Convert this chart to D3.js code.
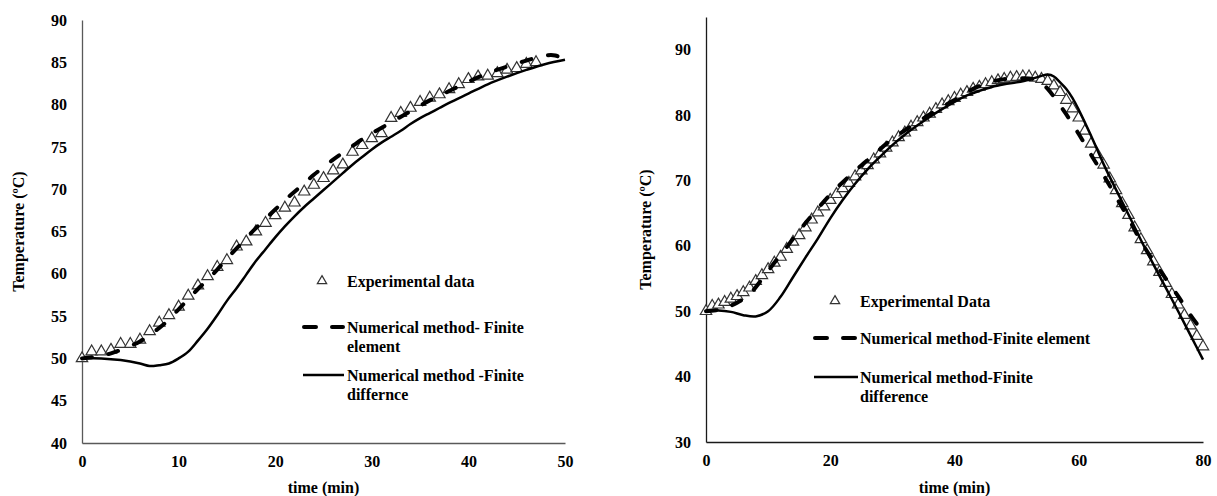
<!DOCTYPE html>
<html>
<head>
<meta charset="utf-8">
<script src="https://cdnjs.cloudflare.com/ajax/libs/d3/7.8.5/d3.min.js"></script>
<style>
  body { margin: 0; background: #fff; }
  text { font-family: "Liberation Serif", "Times New Roman", serif; font-weight: bold; fill: #000; }
</style>
</head>
<body>
<svg id="canvas" width="1217" height="496"></svg>
<script>
// ---- left panel data (heating, 0-50 min) ----
var leftExpTime = [0,1,2,3,4,5,6,7,8,9,10,11,12,13,14,15,16,17,18,19,20,21,22,23,24,25,26,27,28,29,30,31,32,33,34,35,36,37,38,39,40,41,42,43,44,45,46,47];
var leftExpTemp = [50.0,50.8,50.8,51.0,51.7,51.7,52.2,53.2,54.2,55.1,56.1,57.4,58.6,59.7,60.8,61.6,63.2,63.8,65.0,66.0,66.9,67.8,68.4,69.7,70.5,71.3,72.2,72.9,74.4,75.2,76.0,76.6,78.4,79.0,79.6,80.3,80.8,81.2,81.8,82.4,83.0,83.3,83.4,83.7,84.1,84.3,84.8,85.0];
var leftFETime = [0,2,3,4,6,7,8,9,10,11,12,13,14,15,16,17,18,19,20,21,22,23,24,25,26,27,28,29,30,32,34,36,38,40,42,44,46,48,49,50];
var leftFETemp = [50.0,50.3,50.6,51.0,52.0,52.8,53.6,54.6,55.8,57.0,58.2,59.3,60.5,61.8,63.0,64.2,65.4,66.5,67.6,68.7,69.7,70.7,71.7,72.6,73.5,74.3,75.1,75.9,76.6,77.9,79.2,80.5,81.6,82.7,83.7,84.5,85.2,85.8,85.8,85.3];
var leftFDTime = [0,2,4,6,7,8,9,10,11,12,13,14,15,16,17,18,19,20,21,22,23,24,25,26,27,28,29,30,31,32,33,34,35,36,37,38,40,42,44,46,48,50];
var leftFDTemp = [50.0,50.0,49.8,49.4,49.1,49.2,49.4,50.0,50.8,52.1,53.5,55.1,56.8,58.3,59.9,61.5,62.9,64.3,65.6,66.8,67.9,68.9,69.9,70.9,71.9,72.9,73.8,74.7,75.5,76.2,76.9,77.7,78.4,79.0,79.6,80.2,81.3,82.4,83.3,84.1,84.8,85.3];
var leftXTicks = [0,10,20,30,40,50];
var leftYTicks = [40,45,50,55,60,65,70,75,80,85,90];

// ---- right panel data (heating + cooling, 0-80 min) ----
var rightExpTime = [0,1,2,3,4,5,6,7,8,9,10,11,12,13,14,15,16,17,18,19,20,21,22,23,24,25,26,27,28,29,30,31,32,33,34,35,36,37,38,39,40,41,42,43,44,45,46,47,48,49,50,51,52,53,54,55,56,57,58,59,60,61,62,63,64,65,66,67,68,69,70,71,72,73,74,75,76,77,78,79,80];
var rightExpTemp = [50.0,50.8,51.0,51.4,51.9,52.3,52.9,53.6,54.6,55.5,56.4,57.4,58.3,59.5,60.6,61.6,62.8,64.0,65.1,66.0,67.0,67.9,68.8,69.6,70.6,71.5,72.3,73.2,74.1,75.0,75.8,76.6,77.3,78.2,78.9,79.6,80.2,80.9,81.6,82.1,82.6,83.1,83.5,84.0,84.3,84.7,85.0,85.3,85.5,85.7,85.8,85.9,85.9,85.7,85.5,85.2,84.5,83.5,82.3,81.0,79.6,77.6,75.6,74.0,72.4,70.3,68.5,66.5,64.7,62.8,61.0,59.3,57.6,56.0,54.3,52.6,51.0,49.4,47.8,46.2,44.6];
var rightFETime = [0,2,3,5,7,9,11,13,15,17,19,21,23,25,27,29,31,33,35,37,40,43,46,48,50,52,53,54,55,56,58,60,62,64,66,68,70,72,74,76,78,80];
var rightFETemp = [50.0,50.2,50.5,51.3,52.6,54.9,57.4,59.8,62.3,64.6,66.8,68.8,70.6,72.3,73.9,75.6,77.0,78.3,79.5,80.7,82.3,84.0,85.1,85.5,85.6,85.6,85.4,84.9,84.0,82.8,80.1,77.1,73.9,70.8,67.5,64.2,60.7,57.7,55.0,52.3,49.4,46.8];
var rightFDTime = [0,2,4,6,8,10,12,14,16,18,20,22,24,26,28,30,32,34,36,38,40,42,44,46,48,50,52,54,55,56,57,58,59,60,62,64,66,68,70,72,74,76,78,80];
var rightFDTemp = [50.0,50.1,49.9,49.4,49.2,50.0,52.2,55.2,58.2,61.1,64.2,67.0,69.5,71.7,73.6,75.4,77.0,78.4,79.7,80.9,82.0,83.0,83.7,84.3,84.7,85.0,85.4,86.0,86.2,85.9,85.0,84.0,82.6,80.8,76.8,72.5,68.6,64.8,60.9,57.2,53.6,50.0,46.3,42.6];
var rightXTicks = [0,20,40,60,80];
var rightYTicks = [30,40,50,60,70,80,90];

var svg = d3.select("#canvas");

function zip(xs, ys) {
    return xs.map(function(x, i) { return [x, ys[i]]; });
}

function drawPanel(p) {
    var g = svg.append("g");
    var x = d3.scaleLinear().domain(p.xDomain).range([p.left, p.right]);
    var y = d3.scaleLinear().domain(p.yDomain).range([p.bottom, p.top]);

    // axes
    var xAxis = g.append("g")
        .attr("transform", "translate(0," + p.bottom + ")")
        .call(d3.axisBottom(x).tickValues(p.xTicks).tickSize(0).tickPadding(13).tickFormat(d3.format("d")));
    var yAxis = g.append("g")
        .attr("transform", "translate(" + p.left + ",0)")
        .call(d3.axisLeft(y).tickValues(p.yTicks).tickSize(0).tickPadding(15).tickFormat(d3.format("d")));
    [xAxis, yAxis].forEach(function(a) {
        a.select(".domain").attr("stroke", p.axisColor).attr("stroke-width", 1.3);
        a.selectAll("text").style("font-size", "16px")
            .style("font-family", "'Liberation Serif', serif").style("font-weight", "bold").attr("fill", "#000");
    });

    // titles
    g.append("text")
        .attr("x", (p.left + p.right) / 2).attr("y", 493)
        .attr("text-anchor", "middle").style("font-size", "16px")
        .text("time (min)");
    g.append("text")
        .attr("transform", "translate(" + p.yTitleX + "," + ((p.top + p.bottom) / 2) + ") rotate(-90)")
        .attr("text-anchor", "middle").attr("dy", "0.35em").style("font-size", "16px")
        .text("Temperature (ºC)");

    var line = d3.line()
        .x(function(d) { return x(d[0]); })
        .y(function(d) { return y(d[1]); })
        .curve(d3.curveCatmullRom);

    var tri = d3.symbol().type(d3.symbolTriangle).size(56);

    // experimental triangles
    g.selectAll("path.exp")
        .data(zip(p.expTime, p.expTemp))
        .enter().append("path")
        .attr("class", "exp")
        .attr("d", tri)
        .attr("transform", function(d) { return "translate(" + x(d[0]) + "," + y(d[1]) + ")"; })
        .attr("fill", "#fff")
        .attr("stroke", "#333")
        .attr("stroke-width", 1.2);

    // finite element (dashed)
    g.append("path")
        .datum(zip(p.feTime, p.feTemp))
        .attr("d", line)
        .attr("fill", "none")
        .attr("stroke", "#000")
        .attr("stroke-width", 4)
        .attr("stroke-linecap", "round")
        .attr("stroke-dasharray", "10,17");

    // finite difference (solid)
    g.append("path")
        .datum(zip(p.fdTime, p.fdTemp))
        .attr("d", line)
        .attr("fill", "none")
        .attr("stroke", "#000")
        .attr("stroke-width", 2.5);

    // legend
    var L = p.legend;
    g.append("path")
        .attr("d", d3.symbol().type(d3.symbolTriangle).size(38))
        .attr("transform", "translate(" + L.markX + "," + L.rows[0] + ")")
        .attr("fill", "#fff").attr("stroke", "#333").attr("stroke-width", 1.2);
    g.append("line")
        .attr("x1", L.lineX0).attr("x2", L.lineX1)
        .attr("y1", L.rows[1]).attr("y2", L.rows[1])
        .attr("stroke", "#000").attr("stroke-width", 4)
        .attr("stroke-linecap", "round").attr("stroke-dasharray", "12,16");
    g.append("line")
        .attr("x1", L.lineX0 - 1).attr("x2", L.lineX1 + 1)
        .attr("y1", L.rows[2]).attr("y2", L.rows[2])
        .attr("stroke", "#000").attr("stroke-width", 2.5);

    L.labels.forEach(function(lines, i) {
        var t = g.append("text")
            .attr("x", L.textX).attr("y", L.rows[i])
            .attr("dy", "0.35em").style("font-size", "16px");
        lines.forEach(function(s, j) {
            t.append("tspan").attr("x", L.textX).attr("dy", j === 0 ? "0.35em" : "1.2em").text(s);
        });
    });
}

drawPanel({
    xDomain: [0, 50], yDomain: [40, 90],
    left: 82, right: 565, top: 20, bottom: 443,
    xTicks: leftXTicks, yTicks: leftYTicks,
    axisColor: "#595959", yTitleX: 18,
    expTime: leftExpTime, expTemp: leftExpTemp,
    feTime: leftFETime, feTemp: leftFETemp,
    fdTime: leftFDTime, fdTemp: leftFDTemp,
    legend: {
        markX: 322, lineX0: 304, lineX1: 343, textX: 347,
        rows: [281, 327, 375],
        labels: [["Experimental data"], ["Numerical method- Finite", "element"], ["Numerical method -Finite", "differnce"]]
    }
});

drawPanel({
    xDomain: [0, 80], yDomain: [30, 95],
    left: 706, right: 1203, top: 17, bottom: 442,
    xTicks: rightXTicks, yTicks: rightYTicks,
    axisColor: "#1a1a1a", yTitleX: 645,
    expTime: rightExpTime, expTemp: rightExpTemp,
    feTime: rightFETime, feTemp: rightFETemp,
    fdTime: rightFDTime, fdTemp: rightFDTemp,
    legend: {
        markX: 835, lineX0: 815, lineX1: 857, textX: 860,
        rows: [301, 338, 377],
        labels: [["Experimental Data"], ["Numerical method-Finite element"], ["Numerical method-Finite", "difference"]]
    }
});
</script>
</body>
</html>
